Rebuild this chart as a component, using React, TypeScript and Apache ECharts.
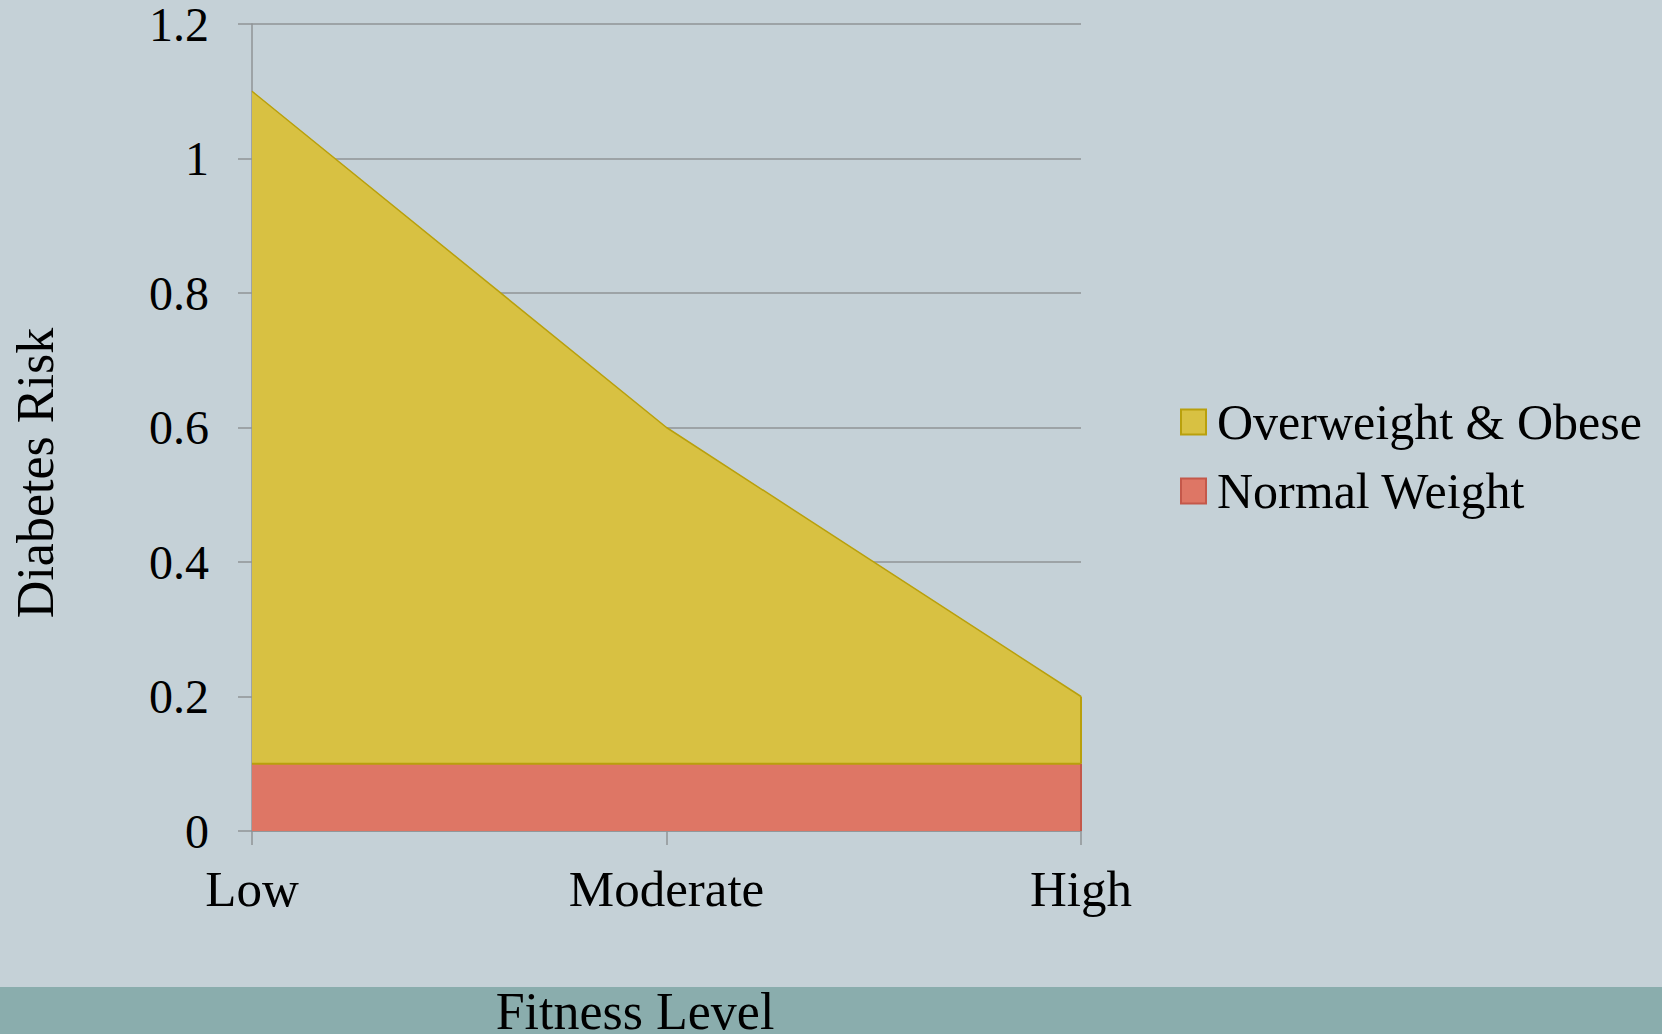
import React, { useEffect, useRef } from "react";
import * as echarts from "echarts";

const categories = ["Low", "Moderate", "High"];
const normalWeight = [0.1, 0.1, 0.1];
const overweightObese = [1.0, 0.5, 0.1]; // stacked on top of normal weight (tops: 1.1, 0.6, 0.2)
const seriesNames = ["Overweight & Obese", "Normal Weight"];
const yTicks = { min: 0, max: 1.2, interval: 0.2 };

const BG = "#C5D1D7";
const BAND = "#8AADAD";
const YELLOW = "#D8C142";
const YELLOW_EDGE = "#B9A00C";
const RED = "#DE7665";
const RED_EDGE = "#C4584A";
const GRIDC = "#8F9396";
const FONT = "'Liberation Serif', 'DejaVu Serif', serif";

export default function App() {
  const ref = useRef<HTMLDivElement>(null);
  useEffect(() => {
    document.body.style.margin = "0";
    const chart = echarts.init(ref.current!, null, { renderer: "svg" });
    chart.setOption({
      animation: false,
      backgroundColor: BG,
      grid: { left: 252, right: 581, top: 22, bottom: 203 },
      xAxis: {
        type: "category",
        data: categories,
        boundaryGap: false,
        axisLine: { lineStyle: { color: GRIDC, width: 1.5 } },
        axisTick: { show: true, length: 14, lineStyle: { color: GRIDC, width: 1.5 } },
        axisLabel: { color: "#000", fontFamily: FONT, fontSize: 51, margin: 32 },
        splitLine: { show: false },
      },
      yAxis: {
        type: "value",
        min: yTicks.min,
        max: yTicks.max,
        interval: yTicks.interval,
        axisLine: { show: true, lineStyle: { color: GRIDC, width: 1.5 } },
        axisTick: { show: true, length: 14, lineStyle: { color: GRIDC, width: 1.5 } },
        axisLabel: { color: "#000", fontFamily: FONT, fontSize: 48, lineHeight: 40, margin: 43 },
        splitLine: { show: true, lineStyle: { color: GRIDC, width: 1.5 } },
      },
      legend: {
        orient: "vertical",
        left: 1175,
        top: 392,
        icon: "rect",
        itemWidth: 25,
        itemHeight: 25,
        itemGap: 19,
        textStyle: { color: "#000", fontFamily: FONT, fontSize: 50, lineHeight: 50, padding: [0, 0, 0, 6] },
        data: [
          { name: seriesNames[0], itemStyle: { color: YELLOW, borderColor: YELLOW_EDGE, borderWidth: 2 } },
          { name: seriesNames[1], itemStyle: { color: RED, borderColor: RED_EDGE, borderWidth: 2 } },
        ],
      },
      graphic: [
        { type: "rect", left: 0, top: 987, shape: { width: 1662, height: 47 }, style: { fill: BAND }, z: -1 },
        {
          type: "text",
          x: 635,
          y: 1011,
          style: { text: "Fitness Level", fontFamily: FONT, fontSize: 52, lineHeight: 40, fill: "#000", textAlign: "center", textVerticalAlign: "middle" },
        },
        {
          type: "text",
          x: 35,
          y: 473,
          rotation: Math.PI / 2,
          style: { text: "Diabetes Risk", fontFamily: FONT, fontSize: 52, fill: "#000", textAlign: "center", textVerticalAlign: "middle" },
        },
      ],
      series: [
        {
          name: seriesNames[1],
          type: "line",
          stack: "risk",
          data: normalWeight,
          showSymbol: false,
          symbol: "none",
          itemStyle: { color: RED },
          lineStyle: { color: YELLOW_EDGE, width: 2 },
          areaStyle: { color: RED, opacity: 1 },
          markLine: {
            silent: true,
            symbol: "none",
            label: { show: false },
            lineStyle: { color: RED_EDGE, width: 2, type: "solid" },
            data: [[{ coord: [categories[2], 0] }, { coord: [categories[2], normalWeight[2]] }]],
          },
        },
        {
          name: seriesNames[0],
          type: "line",
          stack: "risk",
          data: overweightObese,
          showSymbol: false,
          symbol: "none",
          itemStyle: { color: YELLOW },
          lineStyle: { color: YELLOW_EDGE, width: 1.5 },
          areaStyle: { color: YELLOW, opacity: 1 },
          markLine: {
            silent: true,
            symbol: "none",
            label: { show: false },
            lineStyle: { color: YELLOW_EDGE, width: 2, type: "solid" },
            data: [[
              { coord: [categories[2], normalWeight[2]] },
              { coord: [categories[2], normalWeight[2] + overweightObese[2]] },
            ]],
          },
        },
      ],
    });
    return () => chart.dispose();
  }, []);
  return <div ref={ref} style={{ position: "absolute", left: 0, top: 0, width: 1662, height: 1034 }} />;
}
